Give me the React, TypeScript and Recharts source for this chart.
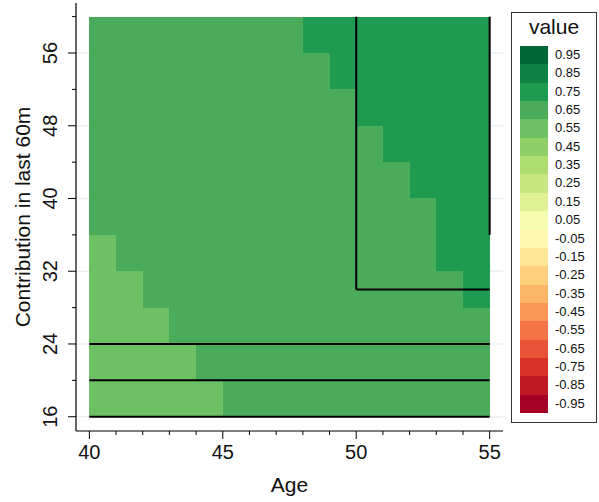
import React from 'react';
import {
  ComposedChart,
  XAxis,
  YAxis,
  CartesianGrid,
  ReferenceArea,
  ReferenceLine,
} from 'recharts';

const FONT = '"Liberation Sans", Arial, sans-serif';

// cell left edges (age) and lower edges (contribution)
const AGES = [40, 41, 42, 43, 44, 45, 46, 47, 48, 49, 50, 51, 52, 53, 54];
const CONTRIBUTIONS = [16, 20, 24, 28, 32, 36, 40, 44, 48, 52, 56];

// one row per contribution band, bottom to top
const VALUES = [
  [0.55, 0.55, 0.55, 0.55, 0.55, 0.65, 0.65, 0.65, 0.65, 0.65, 0.65, 0.65, 0.65, 0.65, 0.65],
  [0.55, 0.55, 0.55, 0.55, 0.65, 0.65, 0.65, 0.65, 0.65, 0.65, 0.65, 0.65, 0.65, 0.65, 0.65],
  [0.55, 0.55, 0.55, 0.65, 0.65, 0.65, 0.65, 0.65, 0.65, 0.65, 0.65, 0.65, 0.65, 0.65, 0.65],
  [0.55, 0.55, 0.65, 0.65, 0.65, 0.65, 0.65, 0.65, 0.65, 0.65, 0.65, 0.65, 0.65, 0.65, 0.75],
  [0.55, 0.65, 0.65, 0.65, 0.65, 0.65, 0.65, 0.65, 0.65, 0.65, 0.65, 0.65, 0.65, 0.75, 0.75],
  [0.65, 0.65, 0.65, 0.65, 0.65, 0.65, 0.65, 0.65, 0.65, 0.65, 0.65, 0.65, 0.65, 0.75, 0.75],
  [0.65, 0.65, 0.65, 0.65, 0.65, 0.65, 0.65, 0.65, 0.65, 0.65, 0.65, 0.65, 0.75, 0.75, 0.75],
  [0.65, 0.65, 0.65, 0.65, 0.65, 0.65, 0.65, 0.65, 0.65, 0.65, 0.65, 0.75, 0.75, 0.75, 0.75],
  [0.65, 0.65, 0.65, 0.65, 0.65, 0.65, 0.65, 0.65, 0.65, 0.65, 0.75, 0.75, 0.75, 0.75, 0.75],
  [0.65, 0.65, 0.65, 0.65, 0.65, 0.65, 0.65, 0.65, 0.65, 0.75, 0.75, 0.75, 0.75, 0.75, 0.75],
  [0.65, 0.65, 0.65, 0.65, 0.65, 0.65, 0.65, 0.65, 0.75, 0.75, 0.75, 0.75, 0.75, 0.75, 0.75],
];

const X_TICKS = [40, 41, 42, 43, 44, 45, 46, 47, 48, 49, 50, 51, 52, 53, 54, 55];
const X_LABELS = [40, 45, 50, 55];
const Y_TICKS = [16, 20, 24, 28, 32, 36, 40, 44, 48, 52, 56, 60];
const Y_LABELS = [16, 24, 32, 40, 48, 56];

// outlined regions: [x1, y1, x2, y2]
const SEGMENTS = [
  [40, 16, 55, 16],
  [40, 20, 55, 20],
  [40, 24, 55, 24],
  [50, 30, 50, 60],
  [50, 30, 55, 30],
  [55, 36, 55, 60],
];

// legend bins, top to bottom
const LEGEND_BREAKS = [
  0.95, 0.85, 0.75, 0.65, 0.55, 0.45, 0.35, 0.25, 0.15, 0.05,
  -0.05, -0.15, -0.25, -0.35, -0.45, -0.55, -0.65, -0.75, -0.85, -0.95,
];
// RdYlGn ramp, low to high
const PALETTE = [
  '#A50026', '#BF1926', '#D93329', '#E85337', '#F57446',
  '#FA9656', '#FDB668', '#FED07E', '#FEE696', '#FFF7B1',
  '#F5FBB1', '#E1F296', '#C9E881', '#AEDD6F', '#8ECF67',
  '#6DC064', '#4AAC5B', '#1F9A51', '#0E8144', '#006837',
];

function colorFor(v: number): string {
  const i = Math.min(19, Math.max(0, Math.floor((v + 1) / 0.1 + 1e-6)));
  return PALETTE[i];
}

const XTick = ({ x, y, payload }: any) => {
  const major = X_LABELS.includes(payload.value);
  return (
    <g>
      <line x1={x} x2={x} y1={y} y2={y + (major ? 8 : 4)} stroke="#000" strokeWidth={1} />
      {major && (
        <text x={x} y={y + 28} textAnchor="middle" fontSize={20} fontFamily={FONT} fill="#111">
          {payload.value}
        </text>
      )}
    </g>
  );
};

const YTick = ({ x, y, payload }: any) => {
  const major = Y_LABELS.includes(payload.value);
  return (
    <g>
      <line x1={x} x2={x - (major ? 8 : 4)} y1={y} y2={y} stroke="#000" strokeWidth={1} />
      {major && (
        <text
          x={x - 19}
          y={y}
          textAnchor="middle"
          fontSize={20}
          fontFamily={FONT}
          fill="#111"
          transform={`rotate(-90, ${x - 19}, ${y})`}
        >
          {payload.value}
        </text>
      )}
    </g>
  );
};

export default function App() {
  const cells = CONTRIBUTIONS.flatMap((c, r) =>
    AGES.map((a, i) => ({ age: a, contrib: c, value: VALUES[r][i] })),
  );

  return (
    <div style={{ position: 'absolute', left: 0, top: 0, width: 599, height: 502, background: '#fff' }}>
      <ComposedChart
        width={599}
        height={502}
        data={cells}
        margin={{ top: 3, right: 96, left: 0, bottom: 0 }}
      >
        <CartesianGrid
          vertical={false}
          horizontalValues={Y_LABELS}
          stroke="#EBEFF4"
          strokeWidth={1.5}
        />
        <XAxis
          type="number"
          dataKey="age"
          domain={[39.5, 55.5]}
          ticks={X_TICKS}
          interval={0}
          height={71}
          tickSize={0}
          tickMargin={0}
          tickLine={false}
          axisLine={{ stroke: '#000', strokeWidth: 1.2 }}
          tick={<XTick />}
          allowDataOverflow
          label={{
            content: ({ viewBox }: any) => (
              <text
                x={viewBox.x + viewBox.width / 2}
                y={viewBox.y + 61}
                textAnchor="middle"
                fontSize={21}
                fontFamily={FONT}
                fill="#111"
              >
                Age
              </text>
            ),
          }}
        />
        <YAxis
          type="number"
          dataKey="contrib"
          domain={[14.43, 61.5]}
          ticks={Y_TICKS}
          interval={0}
          width={76}
          tickSize={0}
          tickMargin={0}
          tickLine={false}
          axisLine={{ stroke: '#000', strokeWidth: 1.2 }}
          tick={<YTick />}
          allowDataOverflow
          label={{
            content: ({ viewBox }: any) => {
              const cx = viewBox.x + 30;
              const cy = viewBox.y + viewBox.height / 2;
              return (
                <text
                  x={cx}
                  y={cy}
                  textAnchor="middle"
                  fontSize={21}
                  fontFamily={FONT}
                  fill="#111"
                  transform={`rotate(-90, ${cx}, ${cy})`}
                >
                  Contribution in last 60m
                </text>
              );
            },
          }}
        />
        {cells.map((d) => (
          <ReferenceArea
            key={`${d.age}-${d.contrib}`}
            x1={d.age}
            x2={d.age + 1}
            y1={d.contrib}
            y2={d.contrib + 4}
            fill={colorFor(d.value)}
            fillOpacity={1}
            stroke="none"
            shapeRendering="crispEdges"
            ifOverflow="visible"
          />
        ))}
        {SEGMENTS.map(([x1, y1, x2, y2], i) => (
          <ReferenceLine
            key={i}
            segment={[{ x: x1, y: y1 }, { x: x2, y: y2 }]}
            stroke="#000"
            strokeWidth={2}
            ifOverflow="visible"
          />
        ))}
      </ComposedChart>

      <div
        style={{
          position: 'absolute',
          left: 511,
          top: 12,
          width: 84,
          height: 409,
          border: '1px solid #333',
          background: '#fff',
          fontFamily: FONT,
          color: '#111',
        }}
      >
        <div
          style={{
            position: 'absolute',
            top: 2,
            left: 0,
            width: '100%',
            textAlign: 'center',
            fontSize: 21,
            lineHeight: '24px',
          }}
        >
          value
        </div>
        {LEGEND_BREAKS.map((b, i) => (
          <React.Fragment key={b}>
            <div
              style={{
                position: 'absolute',
                left: 8,
                top: 33 + i * 18.35,
                width: 28,
                height: 18.6,
                background: colorFor(b),
              }}
            />
            <div
              style={{
                position: 'absolute',
                left: 43,
                top: 33 + i * 18.35,
                height: 18.35,
                lineHeight: '18.35px',
                fontSize: 13,
              }}
            >
              {b.toFixed(2)}
            </div>
          </React.Fragment>
        ))}
      </div>
    </div>
  );
}
